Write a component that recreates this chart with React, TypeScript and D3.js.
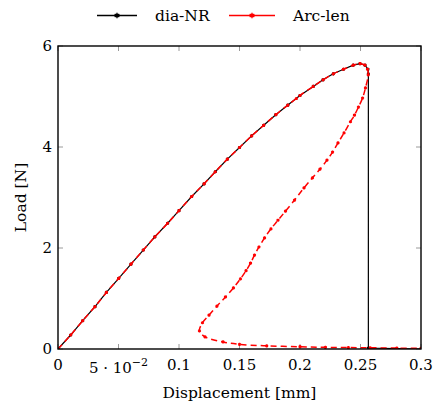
import React, { useEffect, useRef } from "react";
import * as d3 from "d3";

// dia-NR: loading branch, then vertical drop at failure and flat residual branch
const nrDisp = [0, 0.0105, 0.0204, 0.0306, 0.04, 0.0502, 0.0603, 0.0705, 0.08, 0.0906, 0.1, 0.1105, 0.1207, 0.13, 0.14, 0.15, 0.16, 0.17, 0.18, 0.19, 0.2, 0.211, 0.219, 0.2275, 0.236, 0.244, 0.2496, 0.2537, 0.2562, 0.2565, 0.2565, 0.3];
const nrLoad = [0, 0.277, 0.56, 0.84, 1.12, 1.4, 1.68, 1.96, 2.22, 2.49, 2.74, 3.02, 3.27, 3.51, 3.76, 3.99, 4.22, 4.43, 4.64, 4.83, 5.02, 5.2, 5.33, 5.45, 5.54, 5.62, 5.65, 5.62, 5.54, 5.45, 0.02, 0.0];

// Arc-length: same loading branch, then snap-back and softening path
const alDisp = [0, 0.0105, 0.0204, 0.0306, 0.04, 0.0502, 0.0603, 0.0705, 0.08, 0.0906, 0.1, 0.1105, 0.1207, 0.13, 0.14, 0.15, 0.16, 0.17, 0.18, 0.19, 0.197, 0.2, 0.211, 0.219, 0.2275, 0.236, 0.244, 0.2496, 0.2537, 0.2558, 0.2564, 0.2541, 0.2517, 0.2483, 0.245, 0.2417, 0.2364, 0.2314, 0.2269, 0.2223, 0.2165, 0.2103, 0.2033, 0.1955, 0.188, 0.1818, 0.176, 0.1707, 0.1661, 0.1624, 0.1591, 0.1554, 0.1508, 0.145, 0.1384, 0.1314, 0.1248, 0.1194, 0.1169, 0.1215, 0.1364, 0.15, 0.1725, 0.2, 0.221, 0.24, 0.258, 0.28, 0.3];
const alLoad = [0, 0.277, 0.56, 0.84, 1.12, 1.4, 1.68, 1.96, 2.22, 2.49, 2.74, 3.02, 3.27, 3.51, 3.76, 3.99, 4.22, 4.43, 4.64, 4.83, 4.96, 5.02, 5.2, 5.33, 5.45, 5.54, 5.62, 5.65, 5.62, 5.54, 5.43, 5.17, 4.97, 4.79, 4.63, 4.5, 4.28, 4.08, 3.9, 3.74, 3.56, 3.39, 3.19, 2.95, 2.73, 2.55, 2.38, 2.2, 2.02, 1.86, 1.7, 1.55, 1.39, 1.21, 1.03, 0.85, 0.67, 0.52, 0.36, 0.24, 0.14, 0.093, 0.062, 0.045, 0.033, 0.028, 0.024, 0.018, 0.012];

const xTicks = [0, 0.05, 0.1, 0.15, 0.2, 0.25, 0.3];
const xTickLabels = ["0", "5 · 10", "0.1", "0.15", "0.2", "0.25", "0.3"];
const yTicks = [0, 2, 4, 6];
const yTickLabels = ["0", "2", "4", "6"];

const W = 433;
const H = 408;
const M = { left: 58, right: 421, top: 46, bottom: 349 };
const FONT = "'DejaVu Serif', serif";

export default function App() {
  const ref = useRef<SVGSVGElement | null>(null);

  useEffect(() => {
    const svg = d3.select(ref.current);
    svg.selectAll("*").remove();

    const x = d3.scaleLinear().domain([0, 0.3]).range([M.left, M.right]);
    const y = d3.scaleLinear().domain([0, 6]).range([M.bottom, M.top]);

    svg.append("rect").attr("width", W).attr("height", H).attr("fill", "#fff");

    // ticks on all four sides, pointing inward
    const tickLen = 5;
    const tg = svg.append("g").attr("stroke", "#9a9a9a").attr("stroke-width", 1);
    xTicks.forEach((t) => {
      const px = x(t);
      tg.append("line").attr("x1", px).attr("x2", px).attr("y1", M.bottom).attr("y2", M.bottom - tickLen);
      tg.append("line").attr("x1", px).attr("x2", px).attr("y1", M.top).attr("y2", M.top + tickLen);
    });
    yTicks.forEach((t) => {
      const py = y(t);
      tg.append("line").attr("x1", M.left).attr("x2", M.left + tickLen).attr("y1", py).attr("y2", py);
      tg.append("line").attr("x1", M.right).attr("x2", M.right - tickLen).attr("y1", py).attr("y2", py);
    });

    const clip = svg.append("clipPath").attr("id", "plotclip");
    clip.append("rect").attr("x", M.left).attr("y", M.top - 4).attr("width", M.right - M.left).attr("height", M.bottom - M.top + 4);

    const smooth = d3
      .line<[number, number]>()
      .x((d) => x(d[0]))
      .y((d) => y(d[1]))
      .curve(d3.curveCatmullRom.alpha(0.5));

    const straight = d3
      .line<[number, number]>()
      .x((d) => x(d[0]))
      .y((d) => y(d[1]))
      .curve(d3.curveLinear);

    const nr: [number, number][] = nrDisp.map((d, i) => [d, nrLoad[i]]);
    const al: [number, number][] = alDisp.map((d, i) => [d, alLoad[i]]);

    const star = d3.symbol().type(d3.symbolAsterisk).size(7);

    const plot = svg.append("g").attr("clip-path", "url(#plotclip)");

    // dia-NR
    plot.append("path").attr("d", straight(nr)).attr("fill", "none").attr("stroke", "#000").attr("stroke-width", 1.2);
    plot
      .selectAll("path.nrm")
      .data(nr)
      .join("path")
      .attr("class", "nrm")
      .attr("d", star() as string)
      .attr("transform", (d) => `translate(${x(d[0])},${y(d[1])})`)
      .attr("fill", "none")
      .attr("stroke", "#000")
      .attr("stroke-width", 1.2);

    // Arc-length
    plot
      .append("path")
      .attr("d", smooth(al))
      .attr("fill", "none")
      .attr("stroke", "#ff0000")
      .attr("stroke-width", 1.5)
      .attr("stroke-dasharray", "6 4");
    plot
      .selectAll("path.alm")
      .data(al)
      .join("path")
      .attr("class", "alm")
      .attr("d", star() as string)
      .attr("transform", (d) => `translate(${x(d[0])},${y(d[1])})`)
      .attr("fill", "none")
      .attr("stroke", "#ff0000")
      .attr("stroke-width", 1.3);

    // frame
    svg
      .append("rect")
      .attr("x", M.left)
      .attr("y", M.top)
      .attr("width", M.right - M.left)
      .attr("height", M.bottom - M.top)
      .attr("fill", "none")
      .attr("stroke", "#000")
      .attr("stroke-width", 1.4);

    // x tick labels
    xTicks.forEach((t, i) => {
      const tx = svg
        .append("text")
        .attr("x", x(t))
        .attr("y", i === 1 ? 373 : 370)
        .attr("text-anchor", "middle")
        .attr("font-family", FONT)
        .attr("font-size", 15)
        .attr("fill", "#000");
      tx.append("tspan").text(xTickLabels[i]);
      if (i === 1) {
        tx.append("tspan").attr("dy", -7).attr("font-size", 11).text("−2");
      }
    });

    // y tick labels
    yTicks.forEach((t, i) => {
      svg
        .append("text")
        .attr("x", 52)
        .attr("y", y(t) + 5)
        .attr("text-anchor", "end")
        .attr("font-family", FONT)
        .attr("font-size", 15)
        .attr("fill", "#000")
        .text(yTickLabels[i]);
    });

    // axis titles
    svg
      .append("text")
      .attr("x", (M.left + M.right) / 2)
      .attr("y", 398)
      .attr("text-anchor", "middle")
      .attr("font-family", FONT)
      .attr("font-size", 15.5)
      .attr("fill", "#000")
      .text("Displacement [mm]");
    svg
      .append("text")
      .attr("transform", `translate(26,${(M.top + M.bottom) / 2}) rotate(-90)`)
      .attr("text-anchor", "middle")
      .attr("font-family", FONT)
      .attr("font-size", 15.5)
      .attr("fill", "#000")
      .text("Load [N]");

    // legend
    const legendItems = [
      { label: "dia-NR", color: "#000", x0: 97, x1: 137, tx: 155 },
      { label: "Arc-len", color: "#ff0000", x0: 229, x1: 275, tx: 293 },
    ];
    const legendStar = d3.symbol().type(d3.symbolAsterisk).size(20);
    legendItems.forEach((it) => {
      svg.append("line").attr("x1", it.x0).attr("x2", it.x1).attr("y1", 15.5).attr("y2", 15.5).attr("stroke", it.color).attr("stroke-width", 1.6);
      svg
        .append("path")
        .attr("d", legendStar() as string)
        .attr("transform", `translate(${(it.x0 + it.x1) / 2},15.5)`)
        .attr("fill", "none")
        .attr("stroke", it.color)
        .attr("stroke-width", 1.4);
      svg
        .append("text")
        .attr("x", it.tx)
        .attr("y", 21)
        .attr("font-family", FONT)
        .attr("font-size", 15.5)
        .attr("fill", "#000")
        .text(it.label);
    });
  }, []);

  return (
    <div style={{ position: "fixed", left: 0, top: 0 }}>
      <svg ref={ref} width={W} height={H} />
    </div>
  );
}
